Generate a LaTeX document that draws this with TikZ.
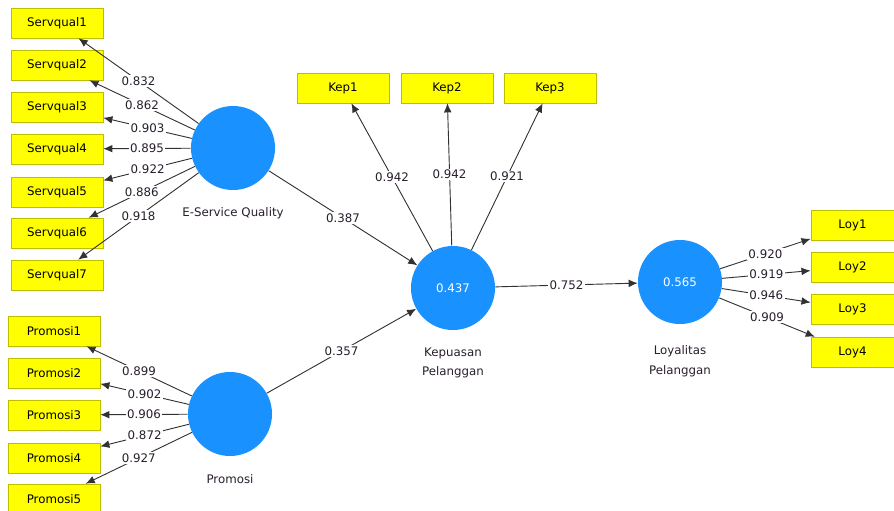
\documentclass[tikz,border=0pt]{standalone}
\usepackage{fontspec}
\setmainfont{DejaVu Sans}
\usetikzlibrary{arrows.meta}
\definecolor{lvblue}{RGB}{25,145,255}
\definecolor{indyellow}{RGB}{255,255,0}
\definecolor{indborder}{RGB}{190,190,0}
\definecolor{edgegray}{RGB}{50,50,50}
\definecolor{txtdark}{RGB}{40,30,45}

\begin{document}
\begin{tikzpicture}[x=0.025cm,y=-0.025cm,font=\fontsize{8.4}{10}\selectfont,text=txtdark]

\tikzset{latent/.style = {shape=circle,fill=lvblue,text=white,minimum size=2.1cm,inner sep=0pt}}
\tikzset{indicator/.style = {shape=rectangle,draw=indborder,fill=indyellow,text=black,minimum width=2.3cm,minimum height=0.75cm,inner sep=0pt}}
\tikzset{edge/.style = {->,> = {Latex[length=6.5pt,width=5.5pt]},draw=edgegray,line width=0.65pt}}
\tikzset{weight/.style = {fill=white,inner sep=1pt}}
\useasboundingbox (0,0) rectangle (894,511);
%latent variables
\node[latent] (esq) at (233,148) {};
\node[latent] (prom) at (230,414) {};
\node[latent] (kep) at (453,288) {0.437};
\node[latent] (loy) at (680,282) {0.565};
\node (esqlab) at (233,213) {E-Service Quality};
\node (promlab) at (230,479) {Promosi};
\node[align=center,font=\fontsize{8.4}{14}\selectfont] (keplab) at (453,363) {Kepuasan\\Pelanggan};
\node[align=center,font=\fontsize{8.4}{14}\selectfont] (loylab) at (680,361) {Loyalitas\\Pelanggan};
%indicators
\node[indicator] (sq1) at (57,23) {Servqual1};
\node[indicator] (sq2) at (57,65) {Servqual2};
\node[indicator] (sq3) at (57,107) {Servqual3};
\node[indicator] (sq4) at (57,149) {Servqual4};
\node[indicator] (sq5) at (57,192) {Servqual5};
\node[indicator] (sq6) at (57,233) {Servqual6};
\node[indicator] (sq7) at (57,275) {Servqual7};
\node[indicator] (pr1) at (54,331) {Promosi1};
\node[indicator] (pr2) at (54,373) {Promosi2};
\node[indicator] (pr3) at (54,415) {Promosi3};
\node[indicator] (pr4) at (54,458) {Promosi4};
\node[indicator] (pr5) at (54,499) {Promosi5};
\node[indicator] (kp1) at (343,88) {Kep1};
\node[indicator] (kp2) at (447,88) {Kep2};
\node[indicator] (kp3) at (550,88) {Kep3};
\node[indicator,minimum width=2.08cm] (ly1) at (852.5,225) {Loy1};
\node[indicator,minimum width=2.08cm] (ly2) at (852.5,267) {Loy2};
\node[indicator,minimum width=2.08cm] (ly3) at (852.5,309) {Loy3};
\node[indicator,minimum width=2.08cm] (ly4) at (852.5,352) {Loy4};
%loadings
\path (esq) edge[edge] node[weight] {0.832} (sq1);
\path (esq) edge[edge] node[weight] {0.862} (sq2);
\path (esq) edge[edge] node[weight] {0.903} (sq3);
\path (esq) edge[edge] node[weight] {0.895} (sq4);
\path (esq) edge[edge] node[weight] {0.922} (sq5);
\path (esq) edge[edge] node[weight] {0.886} (sq6);
\path (esq) edge[edge] node[weight] {0.918} (sq7);
\path (prom) edge[edge] node[weight] {0.899} (pr1);
\path (prom) edge[edge] node[weight] {0.902} (pr2);
\path (prom) edge[edge] node[weight] {0.906} (pr3);
\path (prom) edge[edge] node[weight] {0.872} (pr4);
\path (prom) edge[edge] node[weight] {0.927} (pr5);
\path (kep) edge[edge] node[weight] {0.942} (kp1);
\path (kep) edge[edge] node[weight] {0.942} (kp2);
\path (kep) edge[edge] node[weight] {0.921} (kp3);
\path (loy) edge[edge] node[weight] {0.920} (ly1);
\path (loy) edge[edge] node[weight] {0.919} (ly2);
\path (loy) edge[edge] node[weight] {0.946} (ly3);
\path (loy) edge[edge] node[weight] {0.909} (ly4);
%paths
\path (esq) edge[edge] node[weight] {0.387} (kep);
\path (prom) edge[edge] node[weight] {0.357} (kep);
\path (kep) edge[edge] node[weight] {0.752} (loy);

\end{tikzpicture}
\end{document}
